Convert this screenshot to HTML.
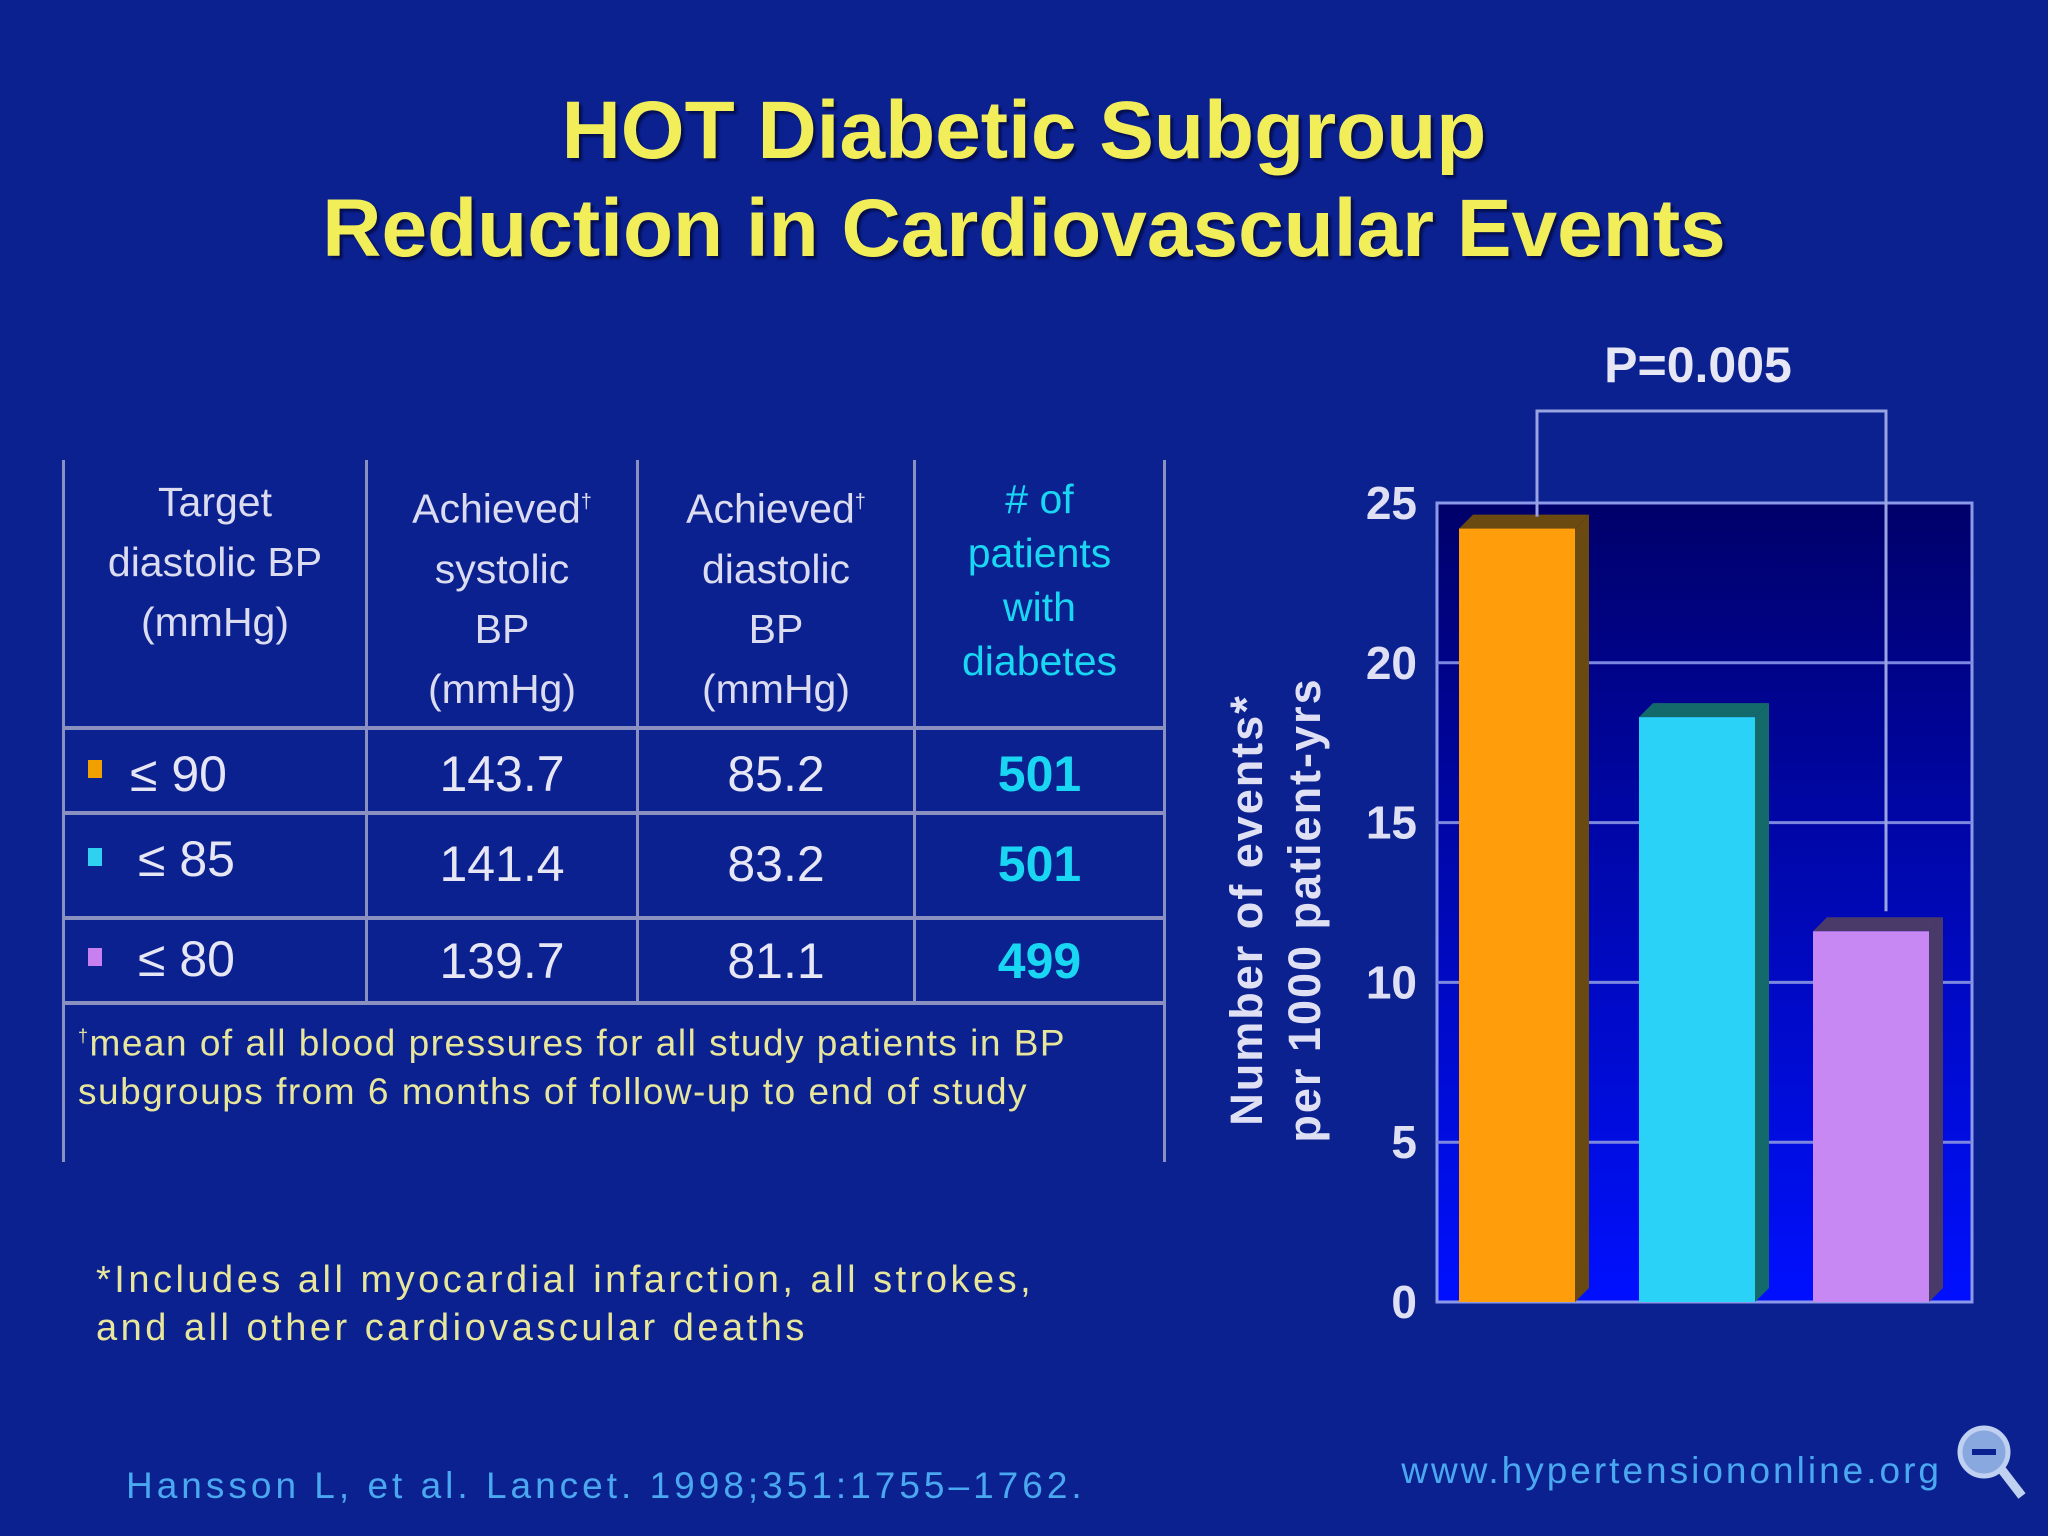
<!DOCTYPE html>
<html><head><meta charset="utf-8">
<style>
body{margin:0;width:2048px;height:1536px;background:#0b2190;overflow:hidden;font-family:"Liberation Sans",sans-serif;}
.a{position:absolute;}
.title{left:0;width:2048px;text-align:center;color:#f2ee5a;font-weight:bold;font-size:82px;text-shadow:3px 3px 2px #050f50;}
.hdr{color:#dcdcf0;font-size:41px;text-align:center;line-height:60px;}
.cell{color:#e6e6f4;font-size:50px;text-align:center;}
.cy{color:#19d6f2;font-weight:bold;}
.ln{background:#8a90c0;}
.note{color:#e8e69a;font-size:37px;letter-spacing:1.5px;}
</style></head><body>
<div class="a title" style="top:84px">HOT Diabetic Subgroup</div>
<div class="a title" style="top:182px">Reduction in Cardiovascular Events</div>

<div>
<div class="a ln" style="left:62px;top:460px;width:3px;height:702px"></div>
<div class="a ln" style="left:1163px;top:460px;width:3px;height:702px"></div>
<div class="a ln" style="left:365px;top:460px;width:3px;height:542px"></div>
<div class="a ln" style="left:636px;top:460px;width:3px;height:542px"></div>
<div class="a ln" style="left:913px;top:460px;width:3px;height:542px"></div>
<div class="a ln" style="left:62px;top:726px;width:1104px;height:4px"></div>
<div class="a ln" style="left:62px;top:811px;width:1104px;height:4px"></div>
<div class="a ln" style="left:62px;top:916px;width:1104px;height:4px"></div>
<div class="a ln" style="left:62px;top:1001px;width:1104px;height:4px"></div>
<div class="a hdr" style="left:65px;top:472px;width:300px">Target<br>diastolic BP<br>(mmHg)</div>
<div class="a hdr" style="left:368px;top:472px;width:268px">Achieved<sup style="font-size:20px">†</sup><br>systolic<br>BP<br>(mmHg)</div>
<div class="a hdr" style="left:639px;top:472px;width:274px">Achieved<sup style="font-size:20px">†</sup><br>diastolic<br>BP<br>(mmHg)</div>
<div class="a hdr" style="left:916px;top:472px;width:247px;color:#19d6f2;line-height:54px"># of<br>patients<br>with<br>diabetes</div>

<div class="a" style="left:88px;top:760px;width:14px;height:18px;background:#f0a000"></div>
<div class="a" style="left:88px;top:848px;width:14px;height:18px;background:#30d0f0"></div>
<div class="a" style="left:88px;top:948px;width:14px;height:18px;background:#c880f0"></div>
<div class="a cell" style="left:130px;top:745px;text-align:left">≤ 90</div>
<div class="a cell" style="left:138px;top:830px;text-align:left">≤ 85</div>
<div class="a cell" style="left:138px;top:930px;text-align:left">≤ 80</div>
<div class="a cell" style="left:368px;top:745px;width:268px">143.7</div>
<div class="a cell" style="left:368px;top:835px;width:268px">141.4</div>
<div class="a cell" style="left:368px;top:932px;width:268px">139.7</div>
<div class="a cell" style="left:639px;top:745px;width:274px">85.2</div>
<div class="a cell" style="left:639px;top:835px;width:274px">83.2</div>
<div class="a cell" style="left:639px;top:932px;width:274px">81.1</div>
<div class="a cell cy" style="left:916px;top:745px;width:247px">501</div>
<div class="a cell cy" style="left:916px;top:835px;width:247px">501</div>
<div class="a cell cy" style="left:916px;top:932px;width:247px">499</div>
<div class="a note" style="left:78px;top:1012px;width:1060px;line-height:49px"><sup style="font-size:18px">†</sup>mean of all blood pressures for all study patients in BP subgroups from 6 months of follow-up to end of study</div>
</div>

<div class="a note" style="left:96px;top:1256px;line-height:48px;letter-spacing:3.5px;font-size:38px">*Includes all myocardial infarction, all strokes,<br>and all other cardiovascular deaths</div>
<div class="a" style="left:126px;top:1465px;color:#4aa8f0;font-size:37px;letter-spacing:4px">Hansson L, et al. Lancet. 1998;351:1755–1762.</div>
<div class="a" style="left:1300px;top:1450px;width:642px;text-align:right;color:#4aa8f0;font-size:37px;letter-spacing:3px">www.hypertensiononline.org</div>
<svg class="a" style="left:1950px;top:1420px" width="80" height="90"><circle cx="34" cy="32" r="24" fill="#8aa8e0" stroke="#c0d0f0" stroke-width="5"/><rect x="22" y="29" width="24" height="6" fill="#0b2190"/><line x1="52" y1="50" x2="72" y2="76" stroke="#c0d0f0" stroke-width="9"/></svg>

<svg class="a" style="left:0;top:0" width="2048" height="1536" id="chart">
<defs><linearGradient id="bg" x1="0" y1="0" x2="0" y2="1"><stop offset="0" stop-color="#00006a"/><stop offset="1" stop-color="#0010ff"/></linearGradient></defs>
</svg>
<script>
const categories=["≤90","≤85","≤80"];
const values=[24.2,18.3,11.6];
const colors=["#ff9e0a","#2ad2f8","#c888f4"];
const sides=["#6a4a10","#146a6a","#4a3a6a"];
const ticks=[0,5,10,15,20,25];
const svg=document.getElementById('chart');
const NS='http://www.w3.org/2000/svg';
const X0=1437,X1=1972,Y0=1302,Y1=503,VMAX=25;
const y=v=>Y0-(Y0-Y1)*v/VMAX;
const barX=[1459,1639,1813],BW=116;
function mk(t,a,p){const e=document.createElementNS(NS,t);for(const k in a)e.setAttribute(k,a[k]);(p||svg).appendChild(e);return e;}
const plot=mk('rect',{x:X0,y:Y1,width:X1-X0,height:Y0-Y1,fill:'url(#bg)',stroke:'#8c98e8','stroke-width':3});


ticks.forEach(t=>{
 if(t>0&&t<VMAX){const g=mk('line',{x1:X0,x2:X1,y1:y(t),y2:y(t),stroke:'#7c88e0','stroke-width':3});
 
 }
 const l=mk('text',{x:1417,y:y(t)+16,'text-anchor':'end',fill:'#e0e0f4','font-size':46,'font-weight':'bold','font-family':'Liberation Sans'});
 l.textContent=t;
 
 
});
values.forEach((v,i)=>{
 const x=barX[i],top=y(v),d=14;
 const s=mk('polygon',{points:`${x+BW},${top} ${x+BW+d},${top-d} ${x+BW+d},${Y0-d} ${x+BW},${Y0}`,fill:sides[i]});
 
 
 const tp=mk('polygon',{points:`${x},${top} ${x+d},${top-d} ${x+BW+d},${top-d} ${x+BW},${top}`,fill:sides[i]});
 
 
 const r=mk('rect',{x:x,y:top,width:BW,height:Y0-top,fill:colors[i]});
 
 
});
const br=mk('polyline',{points:`1537,${y(values[0])-12} 1537,411 1886,411 1886,${y(values[2])-20}`,fill:'none',stroke:'#9aa4e0','stroke-width':3});


const p=mk('text',{x:1698,y:382,'text-anchor':'middle',fill:'#e6e6f4','font-size':50,'font-weight':'bold','font-family':'Liberation Sans'});
p.textContent='P=0.005';


const t1=mk('text',{transform:'translate(1262,910) rotate(-90)','text-anchor':'middle',fill:'#e0e0f4','font-size':45,'font-weight':'bold','font-family':'Liberation Sans','letter-spacing':2});
t1.textContent='Number of events*';


const t2=mk('text',{transform:'translate(1320,910) rotate(-90)','text-anchor':'middle',fill:'#e0e0f4','font-size':45,'font-weight':'bold','font-family':'Liberation Sans','letter-spacing':2});
t2.textContent='per 1000 patient-yrs';


</script>
</body></html>
